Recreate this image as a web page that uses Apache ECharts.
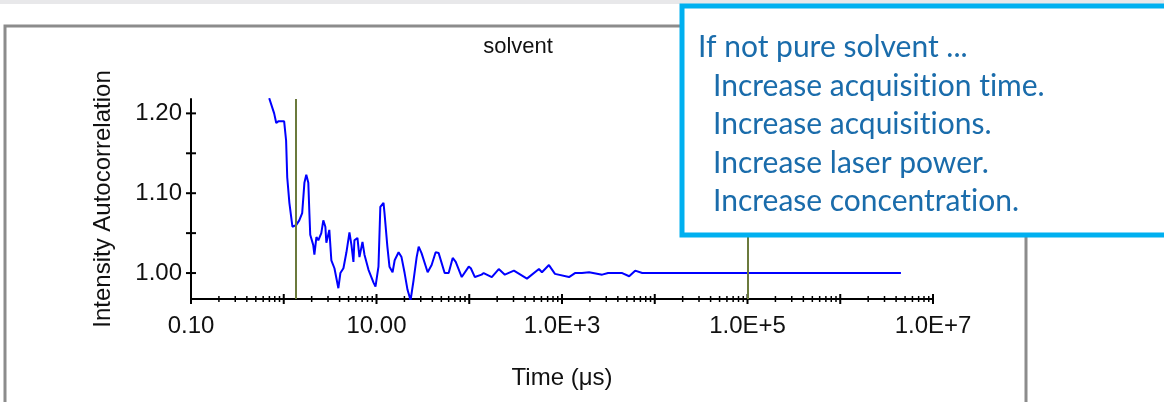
<!DOCTYPE html>
<html>
	<head>
		<meta charset="utf-8" />
		<title>solvent</title>
		<script src="https://cdn.jsdelivr.net/npm/echarts@6/dist/echarts.min.js"></script>
		<style>
			body { margin: 0; background: #fff; }
		</style>
	</head>
	<body>
		<div id="chart" style="width:1164px;height:402px;"></div>
	</body>
	<script type="text/javascript">
	// time (us) and correlation values
	var timeUs = [0.697, 0.788, 0.830, 0.873, 1.01, 1.06, 1.09, 1.15, 1.24, 1.36, 1.47, 1.58, 1.67, 1.75, 1.84, 1.89, 1.93, 2.08, 2.14, 2.25,
		2.36, 2.54, 2.67, 2.81, 2.88, 3.10, 3.26, 3.52, 3.88, 4.08, 4.40, 4.74, 5.11, 5.37, 5.64, 5.78, 6.23, 6.55, 7.06, 7.42,
		8.20, 9.29, 9.75, 10.5, 11.0, 11.9, 12.2, 13.1, 13.8, 14.9, 15.7, 17.3, 18.6, 20.1, 21.6, 23.3, 25.1, 27.1, 28.5, 30.6,
		35.6, 39.3, 43.4, 46.8, 54.3, 60.0, 66.3, 71.5, 83.0, 98.8, 104, 115, 136, 143, 175, 208, 242, 303, 419, 564,
		608, 723, 840, 1190, 1380, 1640, 1960, 2710, 3140, 4460, 5300, 6150, 7330, 4.51e6];
	var corr = [1.219, 1.200, 1.188, 1.190, 1.190, 1.166, 1.120, 1.088, 1.058, 1.060, 1.066, 1.075, 1.113, 1.123, 1.113, 1.075, 1.048, 1.035, 1.023, 1.045,
		1.041, 1.050, 1.066, 1.058, 1.038, 1.054, 1.016, 1.006, 0.981, 1.000, 1.006, 1.026, 1.051, 1.035, 1.014, 1.041, 1.044, 1.020, 1.039, 1.023,
		1.004, 0.988, 0.983, 1.008, 1.083, 1.088, 1.075, 1.033, 1.008, 1.001, 1.016, 1.026, 1.020, 1.000, 0.979, 0.966, 0.991, 1.020, 1.033, 1.025,
		1.001, 1.010, 1.026, 1.025, 1.000, 1.000, 1.019, 1.014, 0.995, 1.008, 1.006, 0.995, 0.998, 1.000, 0.995, 1.005, 0.998, 1.003, 0.993, 1.005,
		1.001, 1.010, 0.999, 0.995, 1.000, 1.000, 1.001, 0.998, 1.000, 1.000, 0.996, 1.003, 1.000, 1.000];
	var markerTimes = [1.35, 1e5];
	var xLabelValues = [0.1, 10, 1e3, 1e5, 1e7];
	var xMajorTicks = [0.1, 1, 10, 100, 1e3, 1e4, 1e5, 1e6, 1e7];
	var xMinorSteps = [2, 3, 4, 5, 6, 7, 8, 9];
	var yLabelValues = [1.00, 1.10, 1.20];
	var yTickValues = [1.00, 1.05, 1.10, 1.15, 1.20];
	var hintLines = ['If not pure solvent ...', 'Increase acquisition time.', 'Increase acquisitions.', 'Increase laser power.', 'Increase concentration.'];

	var X_MIN = 0.1, X_MAX = 1e7, Y_MIN = 0.9675, Y_MAX = 1.218;

	var curve = [];
	for (var i = 0; i < timeUs.length; i++) {
		curve.push([timeUs[i], corr[i]]);
	}
	var xTicks = [];
	for (var i = 0; i < xMajorTicks.length; i++) {
		xTicks.push([xMajorTicks[i], Y_MIN, 1]);
		if (i < xMajorTicks.length - 1) {
			for (var k = 0; k < xMinorSteps.length; k++) {
				xTicks.push([xMajorTicks[i] * xMinorSteps[k], Y_MIN, 0]);
			}
		}
	}
	var yTicks = [];
	for (var i = 0; i < yTickValues.length; i++) {
		yTicks.push([X_MIN, yTickValues[i]]);
	}

	var chartFont = '"Liberation Sans", Arial, sans-serif';

	function fmtTime(v) {
		if (v < 1000) return v.toFixed(2);
		return v.toExponential(1).toUpperCase();
	}

	// callout text, one graphic per line (zwnj keeps Lato from joining "ti")
	var hintY = [47, 86, 124, 163, 201];
	var graphics = [
		{ type: 'rect', z: -10, shape: { x: 0, y: 0, width: 1164, height: 4 }, style: { fill: '#e8e8ea' } },
		{ type: 'rect', z: -10, shape: { x: 5, y: 26, width: 1021, height: 400 }, style: { fill: '#fff', stroke: '#8c8c8c', lineWidth: 3 } },
		{ type: 'rect', z: 100, shape: { x: 682, y: 6, width: 520, height: 229 }, style: { fill: '#fff', stroke: '#00b0f0', lineWidth: 5 } }
	];
	for (var i = 0; i < hintLines.length; i++) {
		graphics.push({
			type: 'text', z: 101,
			x: i == 0 ? 698 : 713,
			y: hintY[i],
			style: {
				text: hintLines[i].replace(/ti/g, 't\u200Ci'),
				font: '30px Lato',
				fill: '#1a6cab',
				verticalAlign: 'middle'
			}
		});
	}

	var myChart = echarts.init(document.getElementById('chart'));
	var option = {
		animation: false,
		backgroundColor: '#fff',
		title: {
			text: 'solvent',
			left: 513,
			top: 31,
			textAlign: 'center',
			textStyle: { fontFamily: chartFont, fontSize: 22, fontWeight: 'normal', color: '#111' }
		},
		grid: { left: 191, right: 231, top: 99, bottom: 103 },
		xAxis: {
			type: 'log',
			logBase: 10,
			min: X_MIN,
			max: X_MAX,
			name: 'Time (μs)',
			nameLocation: 'middle',
			nameGap: 67,
			nameTextStyle: { fontFamily: chartFont, fontSize: 24, color: '#111' },
			axisLine: { lineStyle: { color: '#000', width: 2 } },
			axisTick: { show: false },
			splitLine: { show: false },
			axisLabel: {
				customValues: xLabelValues,
				margin: 15,
				fontFamily: chartFont,
				fontSize: 24,
				color: '#111',
				formatter: fmtTime
			}
		},
		yAxis: {
			type: 'value',
			min: Y_MIN,
			max: Y_MAX,
			name: 'Intensity Autocorrelation',
			nameLocation: 'middle',
			nameGap: 76,
			nameTextStyle: { fontFamily: chartFont, fontSize: 24, color: '#111' },
			axisLine: { show: true, lineStyle: { color: '#000', width: 2 } },
			axisTick: { show: false },
			splitLine: { show: false },
			axisLabel: {
				customValues: yLabelValues,
				margin: 9,
				fontFamily: chartFont,
				fontSize: 24,
				color: '#111',
				formatter: function (v) { return v.toFixed(2); }
			}
		},
		series: [
			{
				type: 'line',
				data: curve,
				showSymbol: false,
				lineStyle: { color: '#0000ff', width: 2 },
				markLine: {
					silent: true,
					symbol: 'none',
					label: { show: false },
					lineStyle: { color: '#6b7a3c', width: 2, type: 'solid' },
					data: [{ xAxis: markerTimes[0] }, { xAxis: markerTimes[1] }]
				},
				z: 3
			},
			// crossing tick marks on the x axis
			{
				type: 'custom',
				data: xTicks,
				silent: true,
				clip: false,
				z: 4,
				renderItem: function (params, api) {
					var p = api.coord([api.value(0), api.value(1)]);
					var h = api.value(2) ? 5 : 3;
					return {
						type: 'line',
						shape: { x1: p[0], y1: p[1] - h, x2: p[0], y2: p[1] + h },
						style: { stroke: '#000', lineWidth: api.value(2) ? 2 : 1.5 }
					};
				}
			},
			// crossing tick marks on the y axis
			{
				type: 'custom',
				data: yTicks,
				silent: true,
				clip: false,
				z: 4,
				renderItem: function (params, api) {
					var p = api.coord([api.value(0), api.value(1)]);
					return {
						type: 'line',
						shape: { x1: p[0] - 5, y1: p[1], x2: p[0] + 5, y2: p[1] },
						style: { stroke: '#000', lineWidth: 2 }
					};
				}
			}
		],
		graphic: graphics
	};
	myChart.setOption(option);
	</script>
</html>
